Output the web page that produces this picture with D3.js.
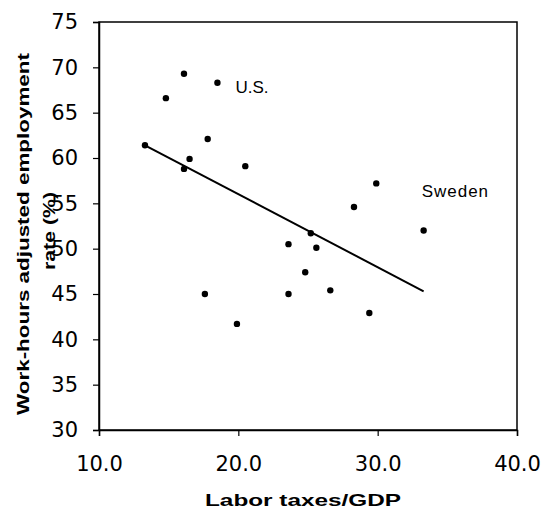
<!DOCTYPE html>
<html>
<head>
<meta charset="utf-8">
<script src="https://cdn.jsdelivr.net/npm/d3@7"></script>
<style>
  body { margin: 0; background: #fff; }
  svg { font-family: Arial, "Liberation Sans", sans-serif; }
</style>
</head>
<body>
<svg id="chart" width="545" height="512"></svg>
<script>
// labor taxes / GDP (x) vs work-hours adjusted employment rate (y)
const taxes = [13.3, 16.1, 18.5, 14.8, 17.8, 16.5, 16.1, 20.5, 25.2, 29.9,
               28.3, 33.3, 23.6, 25.6, 24.8, 17.6, 23.6, 26.6, 29.4, 19.9];
const employment = [61.4, 69.3, 68.3, 66.6, 62.1, 59.9, 58.8, 59.1, 51.7, 57.2,
                    54.6, 52.0, 50.5, 50.1, 47.4, 45.0, 45.0, 45.4, 42.9, 41.7];

const trendX = [13.3, 33.3];
const trendY = [61.4, 45.3];

const labelText = ["U.S.", "Sweden"];
const labelX = [18.5, 33.3];
const labelY = [68.3, 52.0];

const xTicks = [10, 20, 30, 40];
const yTicks = [30, 35, 40, 45, 50, 55, 60, 65, 70, 75];

const svg = d3.select("#chart");
const margin = { top: 22, right: 28, bottom: 82, left: 99 };
const width = 545 - margin.left - margin.right;
const height = 512 - margin.top - margin.bottom;

const x = d3.scaleLinear().domain([10, 40]).range([0, width]);
const y = d3.scaleLinear().domain([30, 75]).range([height, 0]);

const g = svg.append("g").attr("transform", `translate(${margin.left},${margin.top})`);

// frame
g.append("rect")
  .attr("width", width)
  .attr("height", height)
  .attr("fill", "none")
  .attr("stroke", "#000")
  .attr("stroke-width", 1.5);

const xAxis = g.append("g")
  .attr("transform", `translate(0,${height})`)
  .call(d3.axisBottom(x).tickValues(xTicks).tickFormat(d3.format(".1f")).tickSize(6).tickPadding(20));

const yAxis = g.append("g")
  .call(d3.axisLeft(y).tickValues(yTicks).tickSize(6).tickPadding(15));

[xAxis, yAxis].forEach(a => {
  a.select(".domain").attr("stroke-width", 1.5);
  a.selectAll(".tick line").attr("stroke-width", 1.2);
  a.selectAll("text")
    .attr("font-size", 21)
    .attr("font-family", "'DejaVu Sans', sans-serif")
    .attr("fill", "#000");
});

// trend line
g.append("line")
  .attr("x1", x(trendX[0])).attr("y1", y(trendY[0]))
  .attr("x2", x(trendX[1])).attr("y2", y(trendY[1]))
  .attr("stroke", "#000")
  .attr("stroke-width", 2);

// points
g.selectAll("circle.pt")
  .data(d3.range(taxes.length))
  .join("circle")
  .attr("class", "pt")
  .attr("cx", i => x(taxes[i]))
  .attr("cy", i => y(employment[i]))
  .attr("r", 3.2)
  .attr("fill", "#000");

// country labels
const labelDx = [18, -2];
const labelDy = [10, -34];
g.selectAll("text.lab")
  .data(d3.range(labelText.length))
  .join("text")
  .attr("class", "lab")
  .attr("x", i => x(labelX[i]) + labelDx[i])
  .attr("y", i => y(labelY[i]) + labelDy[i])
  .attr("font-size", 17)
  .attr("fill", "#000")
  .attr("letter-spacing", i => i === 1 ? 1 : 0)
  .text(i => labelText[i]);

// axis titles
svg.append("text")
  .attr("x", 303)
  .attr("y", 506)
  .attr("text-anchor", "middle")
  .attr("font-size", 17)
  .attr("font-weight", "bold")
  .attr("textLength", 196)
  .attr("lengthAdjust", "spacingAndGlyphs")
  .text("Labor taxes/GDP");

const yTitle = svg.append("text")
  .attr("transform", "translate(29,234) rotate(-90)")
  .attr("text-anchor", "middle")
  .attr("font-size", 17)
  .attr("font-weight", "bold");
yTitle.append("tspan").attr("x", 0).attr("y", 0)
  .attr("textLength", 362).attr("lengthAdjust", "spacingAndGlyphs")
  .text("Work-hours adjusted employment");
yTitle.append("tspan").attr("x", 3).attr("y", 26)
  .attr("textLength", 78).attr("lengthAdjust", "spacingAndGlyphs")
  .text("rate (%)");
</script>
</body>
</html>
